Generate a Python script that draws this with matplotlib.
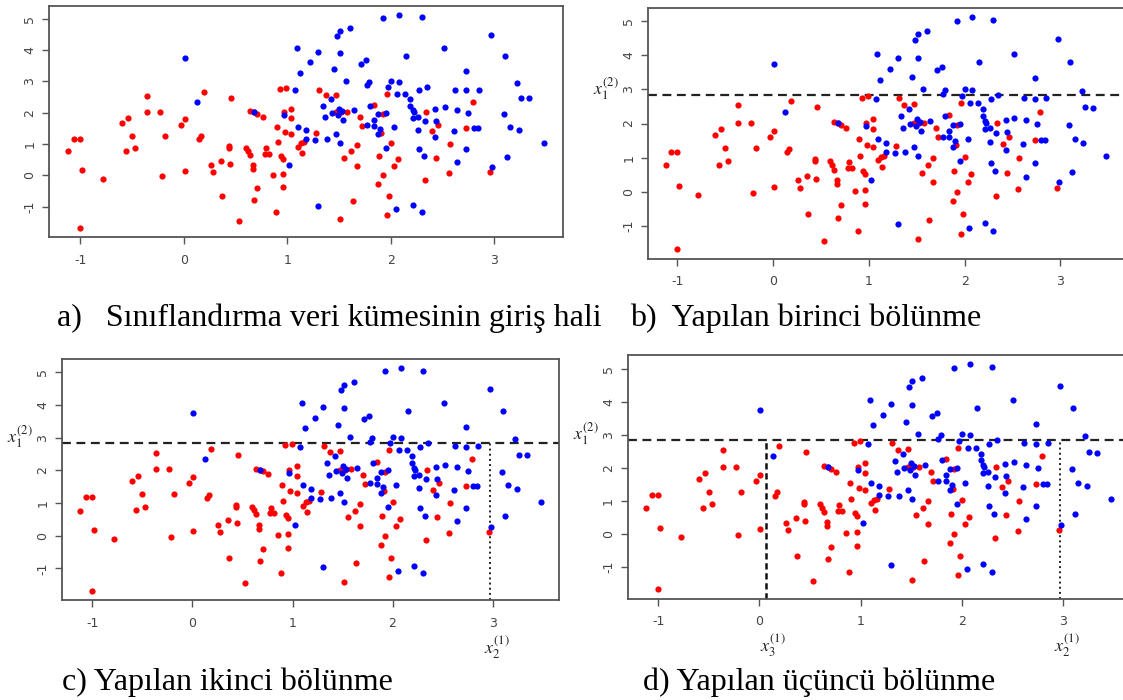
import matplotlib.pyplot as plt
import numpy as np

# kirmizi sinif (x, y)
red_x = [-1.12, -1.06, -1.00, -0.98, -1.00, -0.78, -0.60, -0.54, -0.56, -0.50,
         -0.47, -0.36, -0.36, -0.23, -0.18, -0.21, -0.03, 0.01, 0.01, 0.19,
         0.17, 0.15, 0.26, 0.28, 0.36, 0.37, 0.44, 0.44, 0.45, 0.46,
         0.53, 0.60, 0.62, 0.64, 0.64, 0.68, 0.71, 0.76, 0.67, 0.67,
         0.71, 0.68, 0.79, 0.78, 0.82, 0.86, 0.89, 0.90, 0.91, 0.93,
         0.99, 0.97, 0.98, 0.94, 0.96, 0.96, 0.96, 1.04, 1.04, 1.04,
         1.10, 1.13, 1.16, 1.14, 1.28, 1.31, 1.37, 1.47, 1.47, 1.52,
         1.58, 1.55, 1.51, 1.62, 1.63, 1.67, 1.67, 1.70, 1.72, 1.84,
         1.89, 1.88, 1.92, 1.91, 1.92, 1.96, 2.00, 1.98, 1.96, 2.03,
         2.07, 2.34, 2.33, 2.40, 2.46, 2.44, 2.57, 2.56, 2.73, 2.79, 2.96]
red_y = [0.77, 1.17, 1.17, 0.17, -1.69, -0.11, 1.66, 1.84, 0.79, 1.27,
         0.89, 2.54, 2.03, 2.03, 1.27, -0.03, 1.60, 1.79, 0.15, 2.65,
         1.25, 1.15, 0.33, 0.11, 0.47, -0.67, 0.95, 0.89, 0.38, 2.48,
         -1.44, 0.89, 0.79, 0.65, 2.04, 2.01, 1.97, 1.88, 0.34, 0.22,
         -0.40, -0.77, 0.86, 0.69, 0.69, 0.02, -1.15, 1.54, 1.06, 2.76,
         2.80, 2.01, 1.38, 0.62, 0.53, 0.04, -0.36, 2.13, 1.84, 1.32,
         0.92, 1.02, 1.06, 0.72, 1.34, 2.74, 2.55, 2.58, 2.01, 2.01,
         2.03, 0.56, -1.40, 0.77, -0.83, 0.98, 0.29, 1.86, 1.59, 2.26,
         0.61, -0.28, 0.00, 1.36, 1.96, 2.61, 1.02, -0.67, -1.25, 0.29,
         0.52, 2.01, -0.13, 1.41, 1.60, 0.56, 0.99, 0.07, 1.52, 2.34, 0.11]

# mavi sinif (x, y)
blue_x = [0.01, 0.13, 0.68, 0.97, 1.02, 1.07, 1.09, 1.12, 1.10, 1.18,
          1.18, 1.22, 1.30, 1.27, 1.30, 1.34, 1.36, 1.38, 1.42, 1.45,
          1.43, 1.47, 1.48, 1.51, 1.51, 1.50, 1.49, 1.51, 1.54, 1.53,
          1.57, 1.61, 1.64, 1.71, 1.76, 1.77, 1.79, 1.77, 1.80, 1.84,
          1.84, 1.88, 1.88, 1.90, 1.92, 1.95, 1.95, 1.97, 2.00, 2.03,
          2.05, 2.08, 2.08, 2.06, 2.14, 2.15, 2.19, 2.19, 2.21, 2.22,
          2.21, 2.26, 2.21, 2.26, 2.27, 2.27, 2.30, 2.30, 2.32, 2.33,
          2.35, 2.43, 2.43, 2.44, 2.51, 2.52, 2.61, 2.62, 2.64, 2.64,
          2.73, 2.73, 2.73, 2.75, 2.80, 2.84, 2.85, 2.97, 2.98, 3.09,
          3.10, 3.12, 3.15, 3.22, 3.24, 3.26, 3.34, 3.48]
blue_y = [3.75, 2.34, 2.01, 1.92, 0.33, 2.72, 4.05, 3.28, 1.55, 1.44,
          1.16, 3.61, 3.93, 1.13, -0.96, 2.21, 1.86, 1.15, 2.43, 3.38,
          1.98, 1.32, 4.44, 4.62, 3.91, 2.13, 1.92, 1.04, 1.77, 2.04,
          3.01, 4.71, 2.08, 3.57, 3.67, 2.88, 2.99, 1.61, 2.23, 1.78,
          1.59, 1.96, 1.31, 1.48, 5.02, 0.89, 2.00, 2.82, 3.01, 1.54,
          -1.07, 5.13, 2.99, 2.61, 2.61, 3.80, 2.43, 2.23, 2.08, 2.01,
          1.83, 1.86, -0.93, 1.46, 0.85, 2.71, 5.04, -1.15, 0.61, 1.73,
          2.83, 2.11, 1.23, 1.74, 4.05, 2.17, 1.41, 2.74, 2.09, 0.44,
          3.33, 2.71, 0.84, 1.98, 1.52, 1.52, 2.74, 4.47, 0.27, 1.96,
          3.80, 0.59, 1.55, 2.95, 1.44, 2.48, 2.46, 1.04]

# bolunme noktalari
split1_y = 2.83   # x1^(2)
split2_x = 2.97   # x2^(1)
split3_x = 0.06   # x3^(1)

x_ticks = [-1, 0, 1, 2, 3]
y_ticks = [-1, 0, 1, 2, 3, 4, 5]

plt.rcParams['mathtext.fontset'] = 'stix'

all_x = np.array(red_x + blue_x)
all_y = np.array(red_y + blue_y)
pad_x = 0.04 * (all_x.max() - all_x.min())
pad_y = 0.04 * (all_y.max() - all_y.min())
xlim = (all_x.min() - pad_x, all_x.max() + pad_x)
ylim = (all_y.min() - pad_y, all_y.max() + pad_y)

fig = plt.figure(figsize=(11.23, 7.0), dpi=100)

ax_a = fig.add_axes([0.0436, 0.6614, 0.4577, 0.3300])
ax_b = fig.add_axes([0.5770, 0.6307, 0.4240, 0.3584])
ax_c = fig.add_axes([0.0552, 0.1429, 0.4426, 0.3443])
ax_d = fig.add_axes([0.5588, 0.1450, 0.4475, 0.3473])


def r_plot(ax):
    ax.scatter(red_x, red_y, s=20, color='#ff0000', linewidths=0, zorder=3)
    ax.scatter(blue_x, blue_y, s=20, color='#0000ff', linewidths=0, zorder=3)
    ax.set_xlim(xlim)
    ax.set_ylim(ylim)
    ax.set_xticks(x_ticks)
    ax.set_yticks(y_ticks)
    ax.set_xticklabels([str(t) for t in x_ticks])
    ax.set_yticklabels([str(t) for t in y_ticks], rotation=90, va='center')
    for s in ax.spines.values():
        s.set_color('#555555')
        s.set_linewidth(1.3)
    ax.tick_params(direction='out', length=5, width=1, color='#555555',
                   labelcolor='#444444', labelsize=9, pad=4)
    ax.tick_params(axis='x', pad=7)


def x1_label(ax):
    ax.axhline(split1_y, color='#222222', lw=1.6, ls=(0, (4, 2.5)), zorder=2)
    ax.annotate(r'$x_1^{(2)}$', xy=(0, split1_y), xycoords=('axes fraction', 'data'),
                xytext=(-30, 4), textcoords='offset points',
                ha='center', va='center', fontsize=13, color='#222222',
                annotation_clip=False)


def bottom_label(ax, x, text):
    ax.annotate(text, xy=(x, 0), xycoords=('data', 'axes fraction'),
                xytext=(5, -34), textcoords='offset points',
                ha='center', va='center', fontsize=13, color='#222222',
                annotation_clip=False)


for ax in [ax_a, ax_b, ax_c, ax_d]:
    r_plot(ax)

x1_label(ax_b)

x1_label(ax_c)
ax_c.vlines(split2_x, ylim[0], split1_y, color='#222222', lw=1.4, ls=':', zorder=2)
bottom_label(ax_c, split2_x, r'$x_2^{(1)}$')

x1_label(ax_d)
ax_d.vlines(split2_x, ylim[0], split1_y, color='#222222', lw=1.4, ls=':', zorder=2)
ax_d.vlines(split3_x, ylim[0], split1_y, color='#111111', lw=1.8, ls=(0, (2.5, 1.5)), zorder=2)
bottom_label(ax_d, split2_x, r'$x_2^{(1)}$')
bottom_label(ax_d, split3_x, r'$x_3^{(1)}$')

cap = dict(fontsize=23, family='Liberation Serif', va='baseline', ha='left', color='black')
fig.text(0.0508, 0.534, 'a)   Sınıflandırma veri kümesinin giriş hali', **cap)
fig.text(0.561, 0.534, 'b)  Yapılan birinci bölünme', **cap)
fig.text(0.055, 0.014, 'c) Yapılan ikinci bölünme', **cap)
fig.text(0.5726, 0.014, 'd) Yapılan üçüncü bölünme', **cap)

fig.savefig('out.png', dpi=100)
